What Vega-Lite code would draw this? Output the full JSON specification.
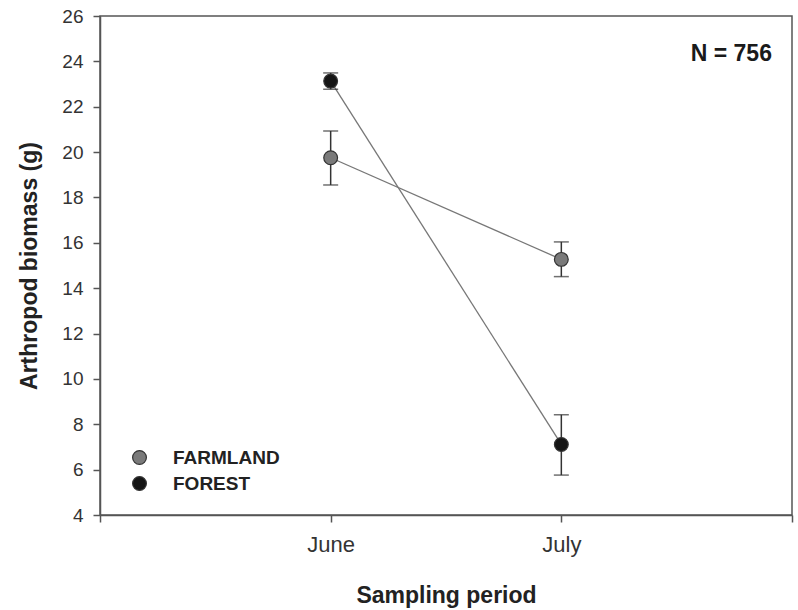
{
  "$schema": "https://vega.github.io/schema/vega-lite/v6.json",
  "width": 692,
  "height": 499,
  "autosize": {"type": "none"},
  "padding": {"left": 100, "top": 16, "right": 6, "bottom": 95},
  "background": "white",
  "config": {
    "font": "Liberation Sans",
    "view": {"stroke": "#555", "strokeWidth": 1.5},
    "axis": {
      "domainColor": "#555",
      "domainWidth": 1.5,
      "tickColor": "#555",
      "tickWidth": 1.5,
      "tickSize": 7,
      "grid": false,
      "labelFont": "Liberation Sans",
      "labelFontSize": 19,
      "labelColor": "#333",
      "titleFont": "Liberation Sans",
      "titleFontSize": 23,
      "titleFontWeight": "bold",
      "titleColor": "#222"
    }
  },
  "data": {
    "values": [
      {"habitat": "FARMLAND", "month": 1, "mean": 19.75, "lo": 18.55, "hi": 20.93},
      {"habitat": "FARMLAND", "month": 2, "mean": 15.27, "lo": 14.51, "hi": 16.04},
      {"habitat": "FOREST", "month": 1, "mean": 23.13, "lo": 22.77, "hi": 23.49},
      {"habitat": "FOREST", "month": 2, "mean": 7.11, "lo": 5.76, "hi": 8.42}
    ]
  },
  "layer": [
    {
      "mark": {"type": "line", "color": "#777", "strokeWidth": 1.3},
      "encoding": {
        "x": {
          "field": "month", "type": "quantitative",
          "scale": {"domain": [0, 3], "nice": false, "zero": false},
          "axis": {
            "values": [0, 1, 2, 3],
            "labelExpr": "datum.value == 1 ? 'June' : datum.value == 2 ? 'July' : ''",
            "labelFontSize": 22,
            "labelPadding": 12,
            "title": "Sampling period",
            "titlePadding": 29
          }
        },
        "y": {
          "field": "mean", "type": "quantitative",
          "scale": {"domain": [4, 26], "nice": false, "zero": false},
          "axis": {
            "values": [4, 6, 8, 10, 12, 14, 16, 18, 20, 22, 24, 26],
            "labelPadding": 10,
            "title": "Arthropod biomass (g)",
            "titlePadding": 20
          }
        },
        "detail": {"field": "habitat"}
      }
    },
    {
      "mark": {"type": "errorbar", "color": "#333", "thickness": 1.5, "ticks": {"size": 15, "thickness": 1.5, "color": "#333"}},
      "encoding": {
        "x": {"field": "month", "type": "quantitative"},
        "y": {"field": "lo", "type": "quantitative", "title": "Arthropod biomass (g)"},
        "y2": {"field": "hi"},
        "detail": {"field": "habitat"}
      }
    },
    {
      "mark": {"type": "point", "shape": "circle", "filled": true, "size": 190, "stroke": "#333", "strokeWidth": 1.2, "opacity": 1},
      "encoding": {
        "x": {"field": "month", "type": "quantitative"},
        "y": {"field": "mean", "type": "quantitative"},
        "fill": {
          "field": "habitat", "type": "nominal",
          "scale": {"domain": ["FARMLAND", "FOREST"], "range": ["#7a7a7a", "#151515"]},
          "legend": {
            "title": null,
            "orient": "none",
            "legendX": 30,
            "legendY": 432,
            "padding": 0,
            "symbolSize": 190,
            "symbolType": "circle",
            "symbolStrokeColor": "#333",
            "symbolStrokeWidth": 1.2,
            "labelFont": "Liberation Sans",
            "labelFontSize": 19,
            "labelFontWeight": "bold",
            "labelColor": "#222",
            "labelOffset": 24,
            "rowPadding": 6
          }
        }
      }
    },
    {
      "data": {"values": [{"label": "N = 756", "x": 2.913, "y": 24.33}]},
      "mark": {"type": "text", "align": "right", "baseline": "middle", "font": "Liberation Sans", "fontSize": 23, "fontWeight": "bold", "color": "#1a1a1a"},
      "encoding": {
        "x": {"field": "x", "type": "quantitative"},
        "y": {"field": "y", "type": "quantitative"},
        "text": {"field": "label"}
      }
    }
  ]
}
